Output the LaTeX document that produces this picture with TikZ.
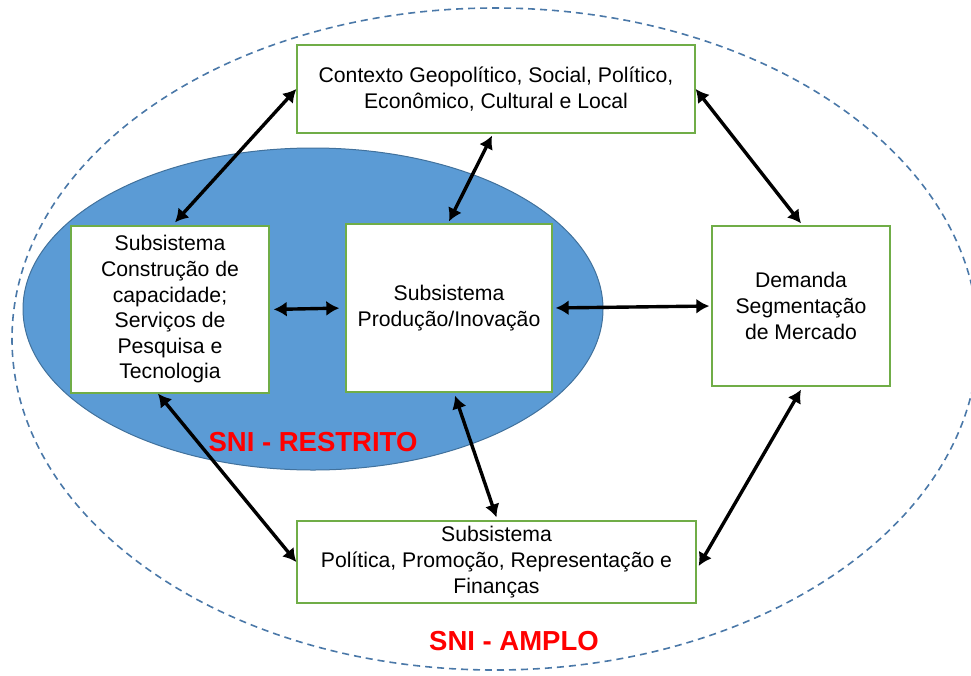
\documentclass[tikz,border=0pt]{standalone}
\usepackage{fontspec}
\setmainfont{Liberation Sans}
\usetikzlibrary{arrows.meta}
\definecolor{boxgreen}{HTML}{70AD47}
\definecolor{snifill}{HTML}{5B9BD5}
\definecolor{sniedge}{HTML}{41719C}
\definecolor{dashblue}{HTML}{4A78A8}
\newcommand{\snitxt}{\fontsize{21.2}{25.6}\selectfont}

\begin{document}
\begin{tikzpicture}[x=1pt,y=-1pt,
  sbox/.style={draw=boxgreen,line width=1.3pt,fill=white,align=center,inner sep=0pt,font=\snitxt},
  link/.style={{Latex[length=13pt,width=15pt]}-{Latex[length=13pt,width=15pt]},line width=3.4pt},
  sni/.style={text=red,font=\fontsize{27.5}{30}\selectfont\bfseries}]
    \useasboundingbox (0,0) rectangle (971,675);
    \draw[dashblue,line width=1.6pt,dash pattern=on 7pt off 5pt] (495,339) ellipse [x radius=483,y radius=331];
    \draw[sniedge,fill=snifill,line width=1pt] (313,309) ellipse [x radius=290,y radius=161];

    \node[sbox,minimum width=398pt,minimum height=88pt] (ctx) at (496,89) {Contexto Geopolítico, Social, Político,\\Econômico, Cultural e Local};
    \node[sbox,minimum width=198pt,minimum height=167pt] (cap) at (170,309.5) {Subsistema\\Construção de\\capacidade;\\Serviços de\\Pesquisa e\\Tecnologia};
    \node[sbox,minimum width=206pt,minimum height=168pt] (prod) at (449,308) {Subsistema\\Produção/Inovação};
    \node[sbox,minimum width=178pt,minimum height=160pt] (dem) at (801,306) {Demanda\\Segmentação\\de Mercado};
    \node[sbox,minimum width=399pt,minimum height=82pt] (pol) at (496.5,562) {Subsistema\\Política, Promoção, Representação e\\Finanças};

    \node[sni] (restrito) at (313,442) {SNI - RESTRITO};
    \node[sni] (amplo) at (514,641) {SNI - AMPLO};

    \draw[link] ([xshift=5pt,yshift=3pt]cap.north) -- (ctx.west);
    \draw[link] ([xshift=-4pt,yshift=-2pt]ctx.south) -- ([yshift=2pt]prod.north);
    \draw[link] (ctx.east) -- ([yshift=2pt]dem.north);
    \draw[link,shorten <=4pt,shorten >=6pt] (cap.east) -- (prod.west);
    \draw[link,shorten <=3pt,shorten >=2pt] (prod.east) -- (dem.west);
    \draw[link] ([xshift=-12pt]cap.south) -- (pol.west);
    \draw[link] ([xshift=6pt,yshift=-3pt]prod.south) -- ([yshift=3pt]pol.north);
    \draw[link] ([yshift=-3pt]dem.south) -- ([xshift=2pt,yshift=-4pt]pol.east);
\end{tikzpicture}
\end{document}
